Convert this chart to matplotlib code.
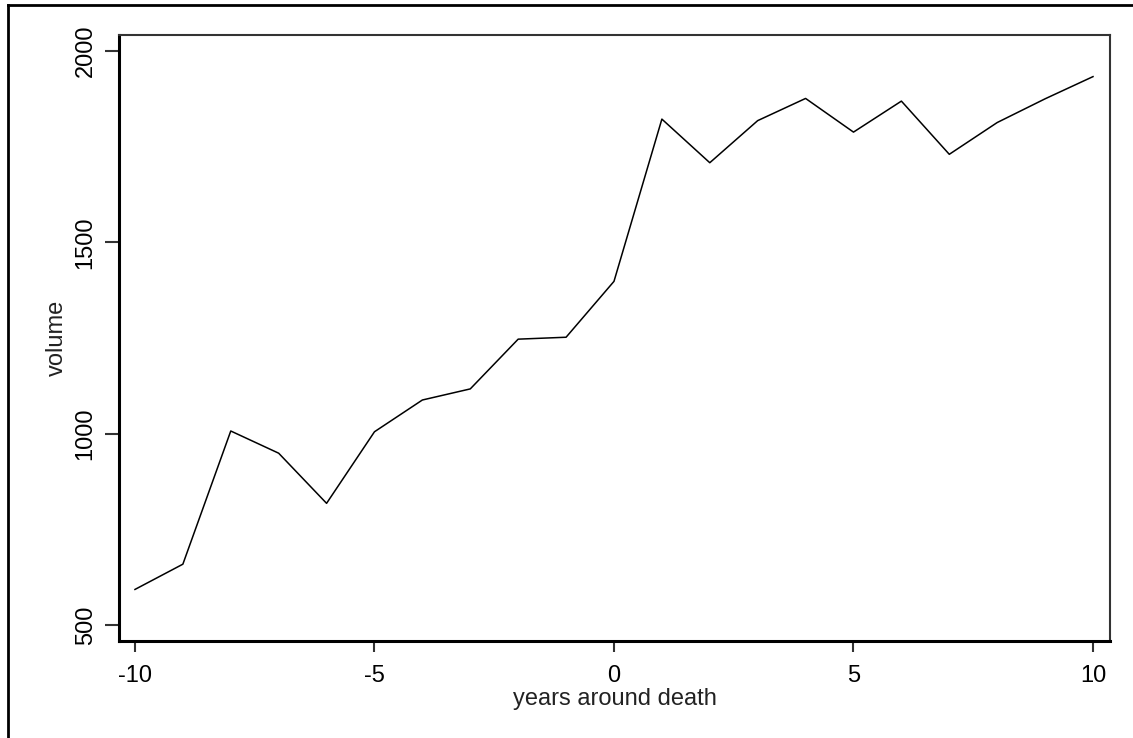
import matplotlib
matplotlib.use("Agg")
import matplotlib.pyplot as plt
from matplotlib.lines import Line2D

plt.rcParams['font.family'] = ['Liberation Sans', 'DejaVu Sans']

# years relative to death and the volume
years = [-10, -9, -8, -7, -6, -5, -4, -3, -2, -1, 0, 1, 2, 3, 4, 5, 6, 7, 8, 9, 10]
volume = [593, 659, 1007, 949, 818, 1005, 1088, 1117, 1247, 1252, 1398,
          1822, 1708, 1818, 1876, 1788, 1869, 1730, 1813, 1875, 1933]

x_ticks = [-10, -5, 0, 5, 10]
y_ticks = [500, 1000, 1500, 2000]

fig = plt.figure(figsize=(11.33, 7.38), dpi=100)
ax = fig.add_axes([0.105, 0.1314, 0.8747, 0.8212])

ax.plot(years, volume, color='black', linewidth=1.1)

ax.set_xlim(-10.334, 10.355)
ax.set_ylim(458.2, 2041.8)
ax.set_xticks(x_ticks)
ax.set_xticklabels([str(t) for t in x_ticks])
ax.set_yticks(y_ticks)
ax.set_yticklabels([str(t) for t in y_ticks], rotation=90, va='center')

ax.tick_params(axis='x', length=8, width=1.5, labelsize=17, pad=9, color='#333333')
ax.tick_params(axis='y', length=10, width=1.5, labelsize=17, pad=6, color='#333333')

for side in ['left', 'bottom']:
    ax.spines[side].set_linewidth(2.2)
    ax.spines[side].set_color('black')
for side in ['top', 'right']:
    ax.spines[side].set_linewidth(1.5)
    ax.spines[side].set_color('#333333')

ax.set_xlabel('years around death', fontsize=17, labelpad=1, color='#222222')
ax.set_ylabel('volume', fontsize=17, labelpad=5, color='#222222')

# outer frame lines (top and left) of the original screenshot
fig.add_artist(Line2D([8 / 1133, 1.0], [1 - 5 / 738, 1 - 5 / 738],
                      transform=fig.transFigure, color='black', linewidth=2))
fig.add_artist(Line2D([8 / 1133, 8 / 1133], [0.0, 1 - 5 / 738],
                      transform=fig.transFigure, color='black', linewidth=2))

fig.savefig('out.png', dpi=100)
